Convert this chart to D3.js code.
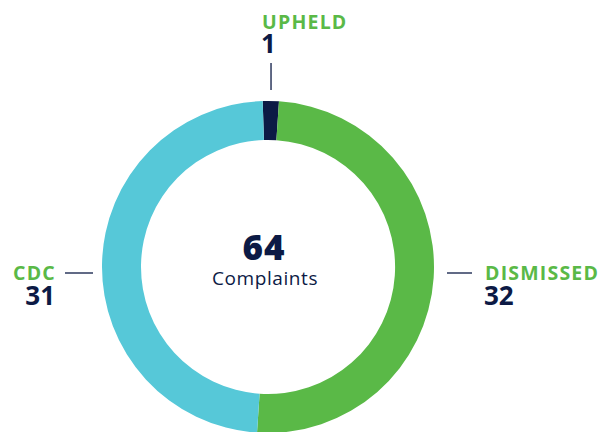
<!DOCTYPE html>
<html>
<head>
<meta charset="utf-8">
<script src="https://cdn.jsdelivr.net/npm/d3@7"></script>
<style>
  html, body { margin: 0; padding: 0; background: #fff; }
  svg { display: block; font-family: 'Open Sans', 'Noto Sans', sans-serif; }
  .cat { fill: #5ab947; font-weight: 700; font-size: 19.5px; letter-spacing: 1.2px; }
  .num { fill: #0c1a45; font-weight: 700; font-size: 26px; letter-spacing: 0; }
  .leader { stroke: #0c1a45; stroke-width: 1.3; }
</style>
</head>
<body>
<div id="chart"></div>
<script>
// Data
const categories = ['UPHELD', 'DISMISSED', 'CDC'];
const counts = [1, 32, 31];
const colors = ['#0c1a45', '#5ab947', '#56c8d8'];
const totalLabel = 'Complaints';

const W = 603, H = 432;
const CX = 268, CY = 267;
const R_OUT = 166, R_IN = 127;
const START = -0.032; // radians, ring slightly rotated

const svg = d3.select('#chart').append('svg')
  .attr('width', W).attr('height', H);

const g = svg.append('g').attr('transform', `translate(${CX},${CY})`);

const rows = categories.map((c, i) => ({ name: c, value: counts[i], color: colors[i] }));

const pie = d3.pie().sort(null).value(d => d.value)
  .startAngle(START).endAngle(START + 2 * Math.PI);
const arc = d3.arc().innerRadius(R_IN).outerRadius(R_OUT);

const arcs = pie(rows);

g.selectAll('path.slice')
  .data(arcs)
  .join('path')
    .attr('class', 'slice')
    .attr('d', arc)
    .attr('fill', d => d.data.color);

// Centre total
const total = d3.sum(counts);
g.append('text')
  .attr('x', -4).attr('y', -7)
  .attr('text-anchor', 'middle')
  .style('font-size', '35px').style('font-weight', 800).style('fill', '#0c1a45')
  .style('letter-spacing', '1px')
  .text(total);
g.append('text')
  .attr('x', -3).attr('y', 18)
  .attr('text-anchor', 'middle')
  .style('font-size', '19px').style('fill', '#0c1a45')
  .style('letter-spacing', '0.6px')
  .text(totalLabel);

// name + count in one text block
function labelBlock(parent, x, y, anchor, d, gap) {
  const t = parent.append('text').attr('text-anchor', anchor);
  t.append('tspan').attr('class', 'cat').attr('x', x).attr('y', y).text(d.name);
  t.append('tspan').attr('class', 'num').attr('x', x - 1).attr('dy', gap).text(d.value);
}

// Labels: side picked from slice mid angle
const L0 = R_OUT + 11, L1 = R_OUT + 38;
arcs.forEach(a => {
  const mid = (a.startAngle + a.endAngle) / 2;
  const deg = ((mid * 180 / Math.PI) % 360 + 360) % 360;
  let side;
  if (deg < 45 || deg > 315) side = 'top';
  else if (deg < 180) side = 'right';
  else side = 'left';

  const lab = g.append('g');
  if (side === 'top') {
    const x = Math.sin(mid) * L0;
    lab.append('line').attr('class', 'leader')
      .attr('x1', x).attr('x2', x).attr('y1', -L0).attr('y2', -L1);
    labelBlock(lab, x - 9, -L1 - 34, 'start', a.data, 23.5);
  } else if (side === 'right') {
    lab.append('line').attr('class', 'leader')
      .attr('x1', L0 + 2).attr('x2', L1).attr('y1', 6).attr('y2', 6);
    labelBlock(lab, R_OUT + 51, 12.5, 'start', a.data, 25.5);
  } else {
    lab.append('line').attr('class', 'leader')
      .attr('x1', -L0 + 2).attr('x2', -L1 + 1).attr('y1', 6).attr('y2', 6);
    labelBlock(lab, -R_OUT - 46, 12.5, 'end', a.data, 25.5);
  }
});
</script>
</body>
</html>
